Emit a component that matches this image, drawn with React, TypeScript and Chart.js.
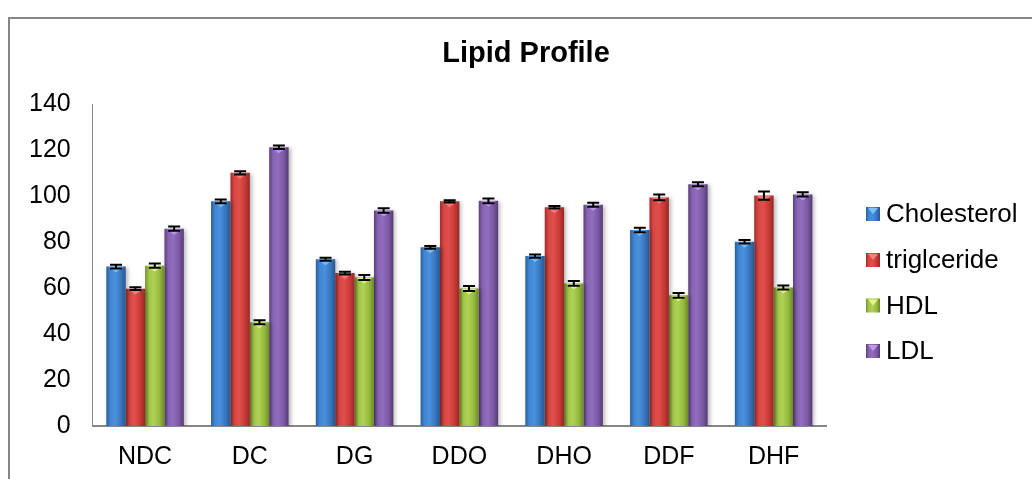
import React, { useEffect, useRef } from 'react';
import { Chart, registerables } from 'chart.js';

Chart.register(...registerables);

const categories = ['NDC', 'DC', 'DG', 'DDO', 'DHO', 'DDF', 'DHF'];
const seriesNames = ['Cholesterol', 'triglceride', 'HDL', 'LDL'];

const cholesterol = [69.3, 97.7, 72.5, 77.7, 73.9, 85.2, 80.1];
const triglceride = [59.7, 110.1, 66.5, 97.7, 95.1, 99.4, 100.2];
const hdl = [69.7, 45.1, 64.6, 59.8, 62.0, 56.8, 60.2];
const ldl = [85.8, 121.2, 93.7, 97.9, 96.2, 105.1, 100.7];

const cholesterolErr = [0.8, 0.8, 0.7, 0.6, 0.7, 1.0, 0.8];
const triglcerideErr = [0.6, 0.7, 0.6, 0.5, 0.5, 1.3, 1.8];
const hdlErr = [0.9, 0.9, 1.1, 1.1, 1.0, 1.0, 0.9];
const ldlErr = [0.9, 0.8, 1.0, 1.0, 0.9, 0.9, 0.9];

const yTicksMax = 140;
const yTicksStep = 20;

const seriesValues = [cholesterol, triglceride, hdl, ldl];
const seriesErrors = [cholesterolErr, triglcerideErr, hdlErr, ldlErr];

const FONT = '"Liberation Sans", Arial, Helvetica, sans-serif';

const baseColors = ['#3a7cc6', '#cf3d3a', '#9bc141', '#7e5ca8'];
const gradStops: [number, string][][] = [
  [[0, '#2c5d98'], [0.2, '#3f86d3'], [0.45, '#4a90dc'], [0.75, '#3877c0'], [1, '#2a568c']],
  [[0, '#9e2c2a'], [0.2, '#d94643'], [0.45, '#e04f4b'], [0.75, '#c93a37'], [1, '#952826']],
  [[0, '#768f2f'], [0.2, '#a2c848'], [0.45, '#aed254'], [0.75, '#96ba3e'], [1, '#6f872c']],
  [[0, '#5a3f79'], [0.2, '#8864b4'], [0.45, '#916dbd'], [0.75, '#7b59a4'], [1, '#553b73']],
];
const topColors = ['#7cc0f5', '#f5807c', '#e4f38a', '#bf9ae8'];

const decor = {
  id: 'decor',
  beforeDatasetsDraw(chart: any) {
    const ctx = chart.ctx;
    chart.data.datasets.forEach((_ds: any, di: number) => {
      const meta = chart.getDatasetMeta(di);
      meta.data.forEach((bar: any) => {
        const g = ctx.createLinearGradient(bar.x - bar.width / 2, 0, bar.x + bar.width / 2, 0);
        gradStops[di].forEach(([o, c]) => g.addColorStop(o, c));
        bar.options = { ...bar.options, backgroundColor: g };
      });
    });
    ctx.save();
    ctx.shadowColor = 'rgba(0,0,0,0.28)';
    ctx.shadowBlur = 4;
    ctx.shadowOffsetX = 2;
    ctx.shadowOffsetY = 1;
  },
  afterDatasetsDraw(chart: any) {
    const ctx = chart.ctx;
    ctx.restore();
    const yScale = chart.scales.y;
    chart.data.datasets.forEach((_ds: any, di: number) => {
      const meta = chart.getDatasetMeta(di);
      meta.data.forEach((bar: any, i: number) => {
        const w = bar.width;
        ctx.save();
        ctx.fillStyle = topColors[di];
        ctx.globalAlpha = 0.9;
        ctx.beginPath();
        ctx.moveTo(bar.x - w * 0.38, bar.y + 0.5);
        ctx.lineTo(bar.x + w * 0.38, bar.y + 0.5);
        ctx.lineTo(bar.x, bar.y + 6);
        ctx.closePath();
        ctx.fill();
        ctx.restore();

        const v = seriesValues[di][i];
        const e = seriesErrors[di][i];
        const yt = yScale.getPixelForValue(v + e);
        const yb = yScale.getPixelForValue(v - e);
        ctx.save();
        ctx.strokeStyle = '#000';
        ctx.lineWidth = 2;
        ctx.beginPath();
        ctx.moveTo(bar.x, yt);
        ctx.lineTo(bar.x, yb);
        ctx.moveTo(bar.x - 6, yt);
        ctx.lineTo(bar.x + 6, yt);
        ctx.moveTo(bar.x - 6, yb);
        ctx.lineTo(bar.x + 6, yb);
        ctx.stroke();
        ctx.restore();
      });
    });
  },
  afterDraw(chart: any) {
    const ctx = chart.ctx;
    ctx.save();
    // outer border
    ctx.strokeStyle = '#868686';
    ctx.lineWidth = 2;
    ctx.beginPath();
    ctx.moveTo(9, chart.height);
    ctx.lineTo(9, 18);
    ctx.lineTo(chart.width, 18);
    ctx.stroke();

    // title
    ctx.fillStyle = '#000';
    ctx.font = `bold 29px ${FONT}`;
    ctx.textAlign = 'center';
    ctx.textBaseline = 'middle';
    ctx.fillText('Lipid Profile', 526, 54);

    // legend
    ctx.font = `26px ${FONT}`;
    ctx.textAlign = 'left';
    const rowY = [214, 260, 305.5, 351];
    seriesNames.forEach((name, i) => {
      const y = rowY[i];
      const x = 866;
      const s = 14;
      const g = ctx.createLinearGradient(x, 0, x + s, 0);
      gradStops[i].forEach(([o, c]) => g.addColorStop(o, c));
      ctx.fillStyle = g;
      ctx.fillRect(x, y - s / 2, s, s);
      ctx.fillStyle = topColors[i];
      ctx.beginPath();
      ctx.moveTo(x + 2, y - s / 2 + 1);
      ctx.lineTo(x + s - 2, y - s / 2 + 1);
      ctx.lineTo(x + s / 2, y);
      ctx.closePath();
      ctx.fill();
      ctx.fillStyle = '#000';
      ctx.fillText(name, 886, y + 1);
    });
    ctx.restore();
  },
};

export default function App() {
  const ref = useRef<HTMLCanvasElement>(null);
  useEffect(() => {
    const canvas = ref.current!;
    const chart = new Chart(canvas, {
      type: 'bar',
      data: {
        labels: categories,
        datasets: seriesNames.map((name, i) => ({
          label: name,
          data: seriesValues[i],
          backgroundColor: baseColors[i],
          borderWidth: 0,
          categoryPercentage: 0.74,
          barPercentage: 1,
        })),
      },
      options: {
        responsive: false,
        animation: false,
        events: [],
        layout: { padding: { left: 7, top: 104, right: 206, bottom: 2 } },
        plugins: {
          legend: { display: false },
          title: { display: false },
          tooltip: { enabled: false },
        },
        scales: {
          x: {
            grid: { display: false, drawTicks: false },
            border: { color: '#868686', width: 2 },
            ticks: { color: '#000', font: { family: FONT, size: 25 }, padding: 16 },
          },
          y: {
            min: 0,
            max: yTicksMax,
            grid: { display: false, drawTicks: false },
            border: { color: '#868686', width: 1 },
            ticks: { stepSize: yTicksStep, color: '#000', font: { family: FONT, size: 25 }, padding: 22 },
          },
        },
      },
      plugins: [decor],
    });
    return () => chart.destroy();
  }, []);
  return (
    <div style={{ position: 'fixed', left: 0, top: 0, width: 1032, height: 479, overflow: 'hidden', background: '#fff' }}>
      <canvas ref={ref} width={1032} height={490} style={{ display: 'block' }} />
    </div>
  );
}
